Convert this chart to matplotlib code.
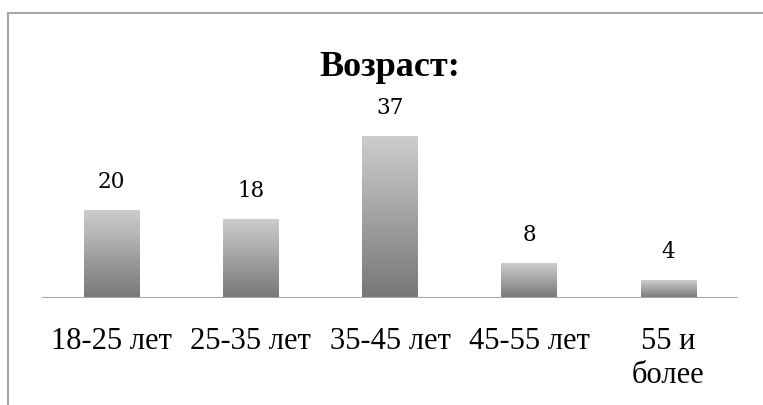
import numpy as np
import matplotlib
matplotlib.use("Agg")
import matplotlib.pyplot as plt
from matplotlib.colors import LinearSegmentedColormap

categories = ["18-25 лет", "25-35 лет", "35-45 лет", "45-55 лет", "55 и\nболее"]
values = [20, 18, 37, 8, 4]

fig = plt.figure(figsize=(7.63, 4.05), dpi=100)
ax = fig.add_axes([42 / 763, 107 / 405, 696 / 763, 196 / 405])

# outer chart border (top and left visible)
fig.add_artist(plt.Line2D([8 / 763, 8 / 763], [0, 1 - 13 / 405], color="#a6a6a6", lw=1.5))
fig.add_artist(plt.Line2D([8 / 763, 1], [1 - 13 / 405, 1 - 13 / 405], color="#a6a6a6", lw=1.5))

x = np.arange(len(values))
width = 0.4
cmap = LinearSegmentedColormap.from_list("g", ["#777777", "#cdcdcd"])
grad = np.linspace(0, 1, 256).reshape(-1, 1)

bars = ax.bar(x, values, width=width, color="none")
for b, v in zip(bars, values):
    x0 = b.get_x()
    ax.imshow(grad, extent=[x0, x0 + width, 0, v], origin="lower", aspect="auto",
              cmap=cmap, zorder=2)
    ax.text(x0 + width / 2, v + 5.2, str(v), ha="center", va="baseline",
            fontsize=15.5, family="DejaVu Serif")

ax.set_xlim(-0.5, len(values) - 0.5)
ax.set_ylim(0, 45)
ax.axhline(0, color="#a6a6a6", lw=1.5, zorder=3)
for s in ax.spines.values():
    s.set_visible(False)
ax.set_yticks([])
ax.set_xticks(x)
ax.set_xticklabels(categories, fontsize=22, family="Liberation Serif", linespacing=1.2, va="top")
ax.tick_params(axis="x", length=0, pad=21)

fig.text(390 / 763, 1 - 76 / 405, "Возраст:", ha="center", va="baseline",
         fontsize=26, fontweight="bold", family="Liberation Serif")

fig.savefig("out.png", dpi=100)
